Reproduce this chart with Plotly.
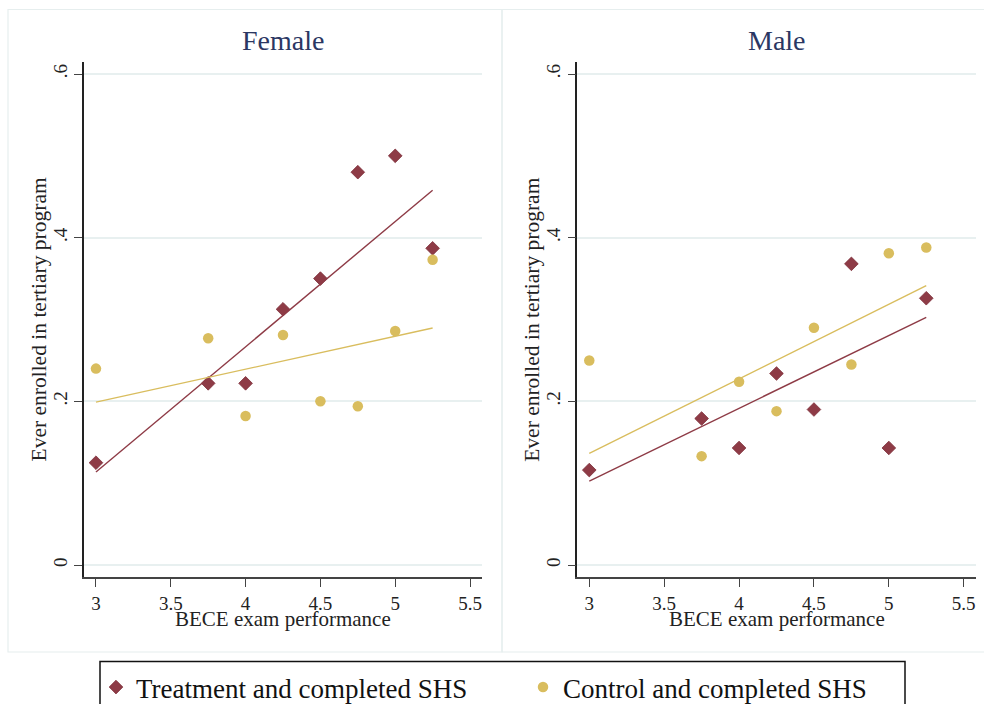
import plotly.graph_objects as go

# BECE exam performance bins
bece_scores = [3, 3.75, 4, 4.25, 4.5, 4.75, 5, 5.25]

# Share ever enrolled in a tertiary program, by group
female_treatment = [0.125, 0.222, 0.222, 0.3125, 0.35, 0.48, 0.50, 0.387]
female_control = [0.24, 0.277, 0.182, 0.281, 0.20, 0.194, 0.286, 0.373]
male_treatment = [0.116, 0.179, 0.143, 0.234, 0.19, 0.368, 0.143, 0.326]
male_control = [0.25, 0.133, 0.224, 0.188, 0.29, 0.245, 0.381, 0.388]

# Linear fits (fitted values at the ends of the score range)
fit_x = [3, 5.25]
female_treatment_fit = [0.1136, 0.458]
female_control_fit = [0.199, 0.2896]
male_treatment_fit = [0.1026, 0.3026]
male_control_fit = [0.1364, 0.3413]

panel_titles = ["Female", "Male"]
legend_labels = ["Treatment and completed SHS", "Control and completed SHS"]
x_title = "BECE exam performance"
y_title = "Ever enrolled in tertiary program"
y_ticks = [0, 0.2, 0.4, 0.6]
y_ticktext = ["0", ".2", ".4", ".6"]
x_ticks = [3, 3.5, 4, 4.5, 5, 5.5]
x_ticktext = ["3", "3.5", "4", "4.5", "5", "5.5"]

W, H = 984, 704
MAROON = "#8E3B46"
GOLD = "#D9BD5E"
NAVY = "#2B3763"
FONT = "Liberation Serif"


def px_x(p):
    return p / W


def px_y(p):
    return 1 - p / H


fig = go.Figure()

panels = [
    ("x", "y", female_treatment, female_control, female_treatment_fit, female_control_fit),
    ("x2", "y2", male_treatment, male_control, male_treatment_fit, male_control_fit),
]

for i, (xa, ya, treat, ctrl, tfit, cfit) in enumerate(panels):
    fig.add_trace(go.Scatter(
        x=bece_scores, y=treat, xaxis=xa, yaxis=ya, mode="markers",
        marker=dict(symbol="diamond", size=10.5, color=MAROON,
                    line=dict(color="#7E2F3A", width=0.8)),
        name=legend_labels[0], legendgroup="t", showlegend=(i == 0),
    ))
    fig.add_trace(go.Scatter(
        x=bece_scores, y=ctrl, xaxis=xa, yaxis=ya, mode="markers",
        marker=dict(symbol="circle", size=10.5, color=GOLD),
        name=legend_labels[1], legendgroup="c", showlegend=(i == 0),
    ))
    fig.add_trace(go.Scatter(
        x=fit_x, y=tfit, xaxis=xa, yaxis=ya, mode="lines",
        line=dict(color=MAROON, width=1.4), showlegend=False,
    ))
    fig.add_trace(go.Scatter(
        x=fit_x, y=cfit, xaxis=xa, yaxis=ya, mode="lines",
        line=dict(color=GOLD, width=1.4), showlegend=False,
    ))

x_range = [2.92, 5.58]
y_range = [-0.01466, 0.61466]
y_dom = [px_y(577), px_y(62)]
x_doms = [[px_x(84), px_x(482)], [px_x(577.3), px_x(975.7)]]

common_x = dict(
    range=x_range, tickvals=x_ticks, ticktext=x_ticktext, ticks="outside",
    ticklen=8, tickwidth=1.3, tickcolor="#444444", showline=True,
    linecolor="#444444", linewidth=1.6, showgrid=False, zeroline=False,
    ticklabelstandoff=0,
    tickfont=dict(family=FONT, size=19, color="#222222"),
)
common_y = dict(
    range=y_range, tickvals=y_ticks, ticktext=y_ticktext, ticks="outside",
    ticklen=8, tickwidth=1.3, tickcolor="#444444", showline=True,
    linecolor="#222222", linewidth=1.6, showgrid=True, gridcolor="#E8F0F0",
    gridwidth=1.6, zeroline=False, tickangle=-90,
    tickfont=dict(family=FONT, size=19, color="#222222"),
)

fig.update_layout(
    xaxis=dict(domain=x_doms[0], anchor="y", **common_x),
    yaxis=dict(domain=y_dom, anchor="x", **common_y),
    xaxis2=dict(domain=x_doms[1], anchor="y2", **common_x),
    yaxis2=dict(domain=y_dom, anchor="x2", **common_y),
)

annotations = []
for i, dom in enumerate(x_doms):
    cx = (dom[0] + dom[1]) / 2
    annotations.append(dict(
        x=cx, y=px_y(41), xref="paper", yref="paper", text=panel_titles[i],
        showarrow=False, xanchor="center", yanchor="middle",
        font=dict(family=FONT, size=28, color=NAVY),
    ))
    annotations.append(dict(
        x=cx, y=px_y(619), xref="paper", yref="paper", text=x_title,
        showarrow=False, xanchor="center", yanchor="middle",
        font=dict(family=FONT, size=21, color="#222222"),
    ))
    annotations.append(dict(
        x=dom[0] - px_x(46), y=(y_dom[0] + y_dom[1]) / 2, xref="paper",
        yref="paper", text=y_title, showarrow=False, textangle=-90,
        xanchor="center", yanchor="middle",
        font=dict(family=FONT, size=21.5, color="#222222"),
    ))

shapes = [
    # panel frames
    dict(type="rect", xref="paper", yref="paper", x0=px_x(8), x1=px_x(502),
         y0=px_y(652), y1=px_y(9.5), line=dict(color="#E6EEEE", width=1.2)),
    dict(type="rect", xref="paper", yref="paper", x0=px_x(502), x1=px_x(1000),
         y0=px_y(652), y1=px_y(9.5), line=dict(color="#E6EEEE", width=1.2)),
    # legend frame
    dict(type="rect", xref="paper", yref="paper", x0=px_x(100), x1=px_x(905),
         y0=px_y(720), y1=px_y(661.5), line=dict(color="#111111", width=1.5)),
]

fig.update_layout(
    width=W, height=H,
    margin=dict(l=0, r=0, t=0, b=0, autoexpand=False),
    paper_bgcolor="white", plot_bgcolor="white",
    font=dict(family=FONT, color="#222222"),
    annotations=annotations, shapes=shapes,
    showlegend=True,
    legend=dict(
        orientation="h", x=px_x(96), y=px_y(663), xref="container",
        yref="container", xanchor="left", yanchor="top", entrywidth=382,
        bgcolor="rgba(0,0,0,0)", borderwidth=0,
        font=dict(family=FONT, size=27, color="#111111"),
        itemclick=False, itemdoubleclick=False,
    ),
    hovermode=False,
)

fig.write_html("out.html")
